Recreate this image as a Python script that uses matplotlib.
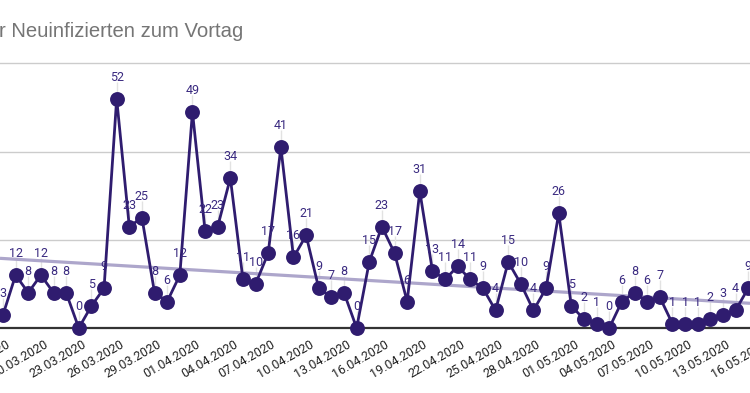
import matplotlib
matplotlib.use("Agg")
import matplotlib.pyplot as plt
from matplotlib import transforms as mtransforms

# ---- data (17.03.2020 .. 15.05.2020, one value per day) ----
values = [3, 12, 8, 12, 8, 8, 0, 5, 9, 52,
          23, 25, 8, 6, 12, 49, 22, 23, 34, 11,
          10, 17, 41, 16, 21, 9, 7, 8, 0, 15,
          23, 17, 6, 31, 13, 11, 14, 11, 9, 4,
          15, 10, 4, 9, 26, 5, 2, 1, 0, 6,
          8, 6, 7, 1, 1, 1, 2, 3, 4, 9]
tick_labels = ["17.03.2020", "20.03.2020", "23.03.2020", "26.03.2020", "29.03.2020",
               "01.04.2020", "04.04.2020", "07.04.2020", "10.04.2020", "13.04.2020",
               "16.04.2020", "19.04.2020", "22.04.2020", "25.04.2020", "28.04.2020",
               "01.05.2020", "04.05.2020", "07.05.2020", "10.05.2020", "13.05.2020",
               "16.05.2020"]
tick_step = 3
# trend line values at the left and right edges of the visible area
trend_values = [15.8, 5.6]
title = "r Neuinfizierten zum Vortag"
gridline_values = [20, 40, 60]

# ---- style ----
W, H, DPI = 750, 393, 100
px_per_day = 12.63
px_per_unit = 4.41
x0_px = 3          # pixel x of first point
base_px = 328      # pixel y of value 0

plt.rcParams['font.family'] = ['Roboto', 'DejaVu Sans']
fig = plt.figure(figsize=(W / DPI, H / DPI), dpi=DPI)

ax_bottom = (H - base_px) / H
ax_height = base_px / H
ax = fig.add_axes([0, ax_bottom, 1, ax_height])
xmin = (0 - x0_px) / px_per_day
xmax = (W - x0_px) / px_per_day
ax.set_xlim(xmin, xmax)
ax.set_ylim(0, base_px / px_per_unit)
ax.axis('off')

idx = list(range(len(values)))
line_color = '#2f1c6f'
label_color = '#3a2a80'

# gridlines
for g in gridline_values:
    ax.axhline(g, color='#cccccc', lw=1.0, zorder=1)
# baseline
ax.axhline(0, color='#333333', lw=1.6, zorder=2, clip_on=False)

# trend line
ax.plot([xmin, xmax], trend_values, color='#ada6cb', lw=2.3, zorder=3,
        solid_capstyle='butt')

# data line
ax.plot(idx, values, color=line_color, lw=2.0, zorder=4, clip_on=False)
ax.scatter(idx, values, s=115, color=line_color, zorder=5, clip_on=False,
           linewidths=0)

# leader lines and labels
pt = 72 / DPI  # points per pixel
for i, v in zip(idx, values):
    ax.vlines(i, v + 6.5 / px_per_unit, v + 17 / px_per_unit,
              color='#e2e2e2', lw=1.0, zorder=2)
    ax.annotate(str(v), (i, v), xytext=(0, 18 * pt), textcoords='offset points',
                ha='center', va='baseline', fontsize=12.5 * pt,
                color=label_color, zorder=6, annotation_clip=False)

# x tick labels (rotated)
trans = mtransforms.blended_transform_factory(ax.transData, ax.transAxes)
for k, lab in enumerate(tick_labels):
    xi = k * tick_step
    t = ax.text(xi, 0, lab, transform=trans, rotation=30,
                rotation_mode='anchor', ha='right', va='top',
                fontsize=12.5 * pt, color='#222222', clip_on=False)
    t.set_transform(trans + mtransforms.ScaledTranslation(3 / DPI, -10 / DPI,
                                                          fig.dpi_scale_trans))

# title
fig.text(-1 / W, 1 - 37 / H, title, ha='left', va='baseline',
         fontsize=20.3 * pt, color='#757575',
         family=['Liberation Sans', 'DejaVu Sans'])

fig.savefig('out.png', dpi=DPI)
